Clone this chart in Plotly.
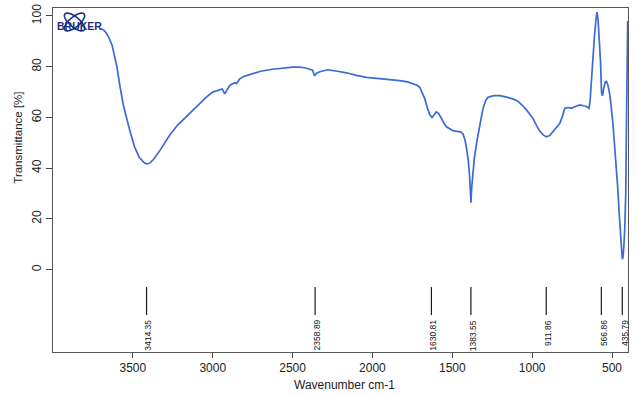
import numpy as np
import plotly.graph_objects as go

# ---------------- data ----------------
wavenumber = [3700, 3685, 3670, 3650, 3630, 3600, 3580, 3560, 3520, 3490, 3460, 3430,
              3414, 3395, 3370, 3330, 3270, 3220, 3165, 3120, 3082, 3040, 3000, 2960,
              2940, 2925, 2910, 2895, 2880, 2863, 2850, 2831, 2800, 2750, 2700, 2625,
              2560, 2500, 2460, 2424, 2393, 2375, 2362, 2350, 2330, 2280, 2220, 2163,
              2100, 2038, 1955, 1900, 1829, 1780, 1746, 1720, 1704, 1690, 1673, 1655,
              1641, 1627, 1614, 1600, 1585, 1568, 1550, 1537, 1515, 1496, 1470, 1447,
              1433, 1420, 1410, 1400, 1392, 1386, 1383, 1379, 1372, 1362, 1345, 1328,
              1308, 1290, 1276, 1240, 1203, 1160, 1120, 1090, 1060, 1030, 995, 970,
              953, 930, 911, 890, 869, 850, 827, 810, 796, 775, 754, 730, 702, 680,
              660, 645, 638, 630, 620, 610, 600, 594, 588, 580, 572, 566, 560, 552,
              542, 535, 527, 518, 510, 495, 480, 465, 455, 445, 440, 436, 432, 426,
              420, 414, 410, 406, 402]
transmittance = [95.0, 94.6, 93.6, 91.5, 88.5, 80.0, 72.0, 65.0, 55.0, 48.5, 44.3, 42.2,
                 41.7, 41.9, 43.5, 47.0, 53.0, 57.0, 60.3, 63.0, 65.6, 68.0, 70.0, 71.0,
                 71.2, 69.3, 71.2, 72.5, 73.2, 73.6, 73.4, 75.2, 76.3, 77.4, 78.2, 79.0,
                 79.5, 79.8, 79.8, 79.6, 79.0, 78.6, 76.4, 77.4, 78.0, 78.8, 78.2, 77.6,
                 76.6, 75.8, 75.3, 75.0, 74.5, 74.0, 73.4, 72.7, 71.9, 70.0, 67.5, 63.5,
                 61.0, 60.0, 61.0, 62.2, 61.5, 59.3, 57.5, 56.3, 55.4, 54.8, 54.5, 54.3,
                 53.5, 51.0, 47.5, 43.0, 37.0, 30.0, 26.4, 32.0, 38.5, 44.0, 51.0, 57.0,
                 63.5, 66.8, 68.0, 68.6, 68.6, 68.0, 67.3, 66.4, 64.7, 62.5, 59.6, 56.5,
                 54.6, 53.0, 52.4, 52.9, 54.4, 55.8, 57.7, 60.5, 63.6, 63.9, 63.6, 64.3,
                 64.9, 64.6, 64.3, 63.6, 66.0, 73.5, 84.0, 92.0, 99.0, 101.5, 99.0, 91.0,
                 82.0, 70.0, 68.5, 71.5, 74.0, 74.2, 73.0, 70.5, 67.0, 58.0, 46.0, 33.0,
                 22.0, 10.0, 6.0, 4.2, 4.6, 9.0, 17.0, 30.0, 55.0, 88.0, 98.0]

peak_positions = [3414.35, 2358.89, 1630.81, 1383.55, 911.86, 566.86, 435.79]
peak_labels = ["3414.35", "2358.89", "1630.81", "1383.55", "911.86", "566.86", "435.79"]
x_tick_values = [3500, 3000, 2500, 2000, 1500, 1000, 500]
y_tick_values = [0, 20, 40, 60, 80, 100]

# ---------------- layout constants ----------------
W, H = 638, 396
PL, PR, PT, PB = 53, 628, 8, 352          # plot-area edges in window pixels
ML, MR, MT, MB = PL, W - PR, PT, H - PB
X_RANGE = [4000, 400]
Y_RANGE = [-32.5, 103.15]
MARK_TOP, MARK_BOTTOM, LABEL_TOP = -6.9, -17.9, -19.0
LINE_COLOR = "#3a6bd6"
FONT = "Liberation Sans, Arial, Helvetica, sans-serif"

pw, ph = PR - PL, PB - PT
def to_paper(px, py):
    return (px - PL) / pw, (PB - py) / ph

fig = go.Figure()

fig.add_trace(go.Scatter(
    x=wavenumber, y=transmittance, mode="lines",
    line=dict(color=LINE_COLOR, width=1.7), hoverinfo="x+y", showlegend=False))

# peak marker lines
mx, my = [], []
for p in peak_positions:
    mx += [p, p, None]
    my += [MARK_TOP, MARK_BOTTOM, None]
fig.add_trace(go.Scatter(x=mx, y=my, mode="lines",
                         line=dict(color="#1a1a1a", width=1.2),
                         hoverinfo="skip", showlegend=False))

annotations = []
for p, lab in zip(peak_positions, peak_labels):
    annotations.append(dict(x=p, y=LABEL_TOP, xref="x", yref="y", text=lab,
                            textangle=-90, showarrow=False, xanchor="center",
                            yanchor="top", xshift=2,
                            font=dict(family=FONT, size=8.5, color="#111111")))

# axis titles
annotations.append(dict(x=0, y=52, xref="paper", yref="y", xshift=-(PL - 18),
                        text="Transmittance [%]", textangle=-90, showarrow=False,
                        xanchor="center", yanchor="middle",
                        font=dict(family=FONT, size=11.5, color="#222222")))
tx, ty = to_paper(344, 385)
annotations.append(dict(x=tx, y=ty, xref="paper", yref="paper", text="Wavenumber cm-1",
                        showarrow=False, xanchor="center", yanchor="middle",
                        font=dict(family=FONT, size=12, color="#222222")))

# Bruker logo (decorative)
shapes = []
cx, cy, a, b = 74.5, 22.0, 12.5, 5.0
for ang in (40, -40):
    t = np.linspace(0, 2 * np.pi, 60)
    th = np.radians(ang)
    xs = cx + a * np.cos(t) * np.cos(th) - b * np.sin(t) * np.sin(th)
    ys = cy + a * np.cos(t) * np.sin(th) + b * np.sin(t) * np.cos(th)
    pts = [to_paper(x_, y_) for x_, y_ in zip(xs, ys)]
    path = "M " + " L ".join(f"{u:.5f},{v:.5f}" for u, v in pts) + " Z"
    shapes.append(dict(type="path", path=path, xref="paper", yref="paper",
                       line=dict(color="#1b2f80", width=1.6)))
lx, ly = to_paper(79, 26.5)
annotations.append(dict(x=lx, y=ly, xref="paper", yref="paper", text="<b>BRUKER</b>",
                        showarrow=False, xanchor="center", yanchor="middle",
                        font=dict(family=FONT, size=10.5, color="#1b2f80")))

fig.update_layout(
    width=W, height=H, autosize=False,
    margin=dict(l=ML, r=MR, t=MT, b=MB, pad=0),
    paper_bgcolor="white", plot_bgcolor="white",
    annotations=annotations, shapes=shapes,
    font=dict(family=FONT, color="#222222"),
)
fig.update_xaxes(range=X_RANGE, tickvals=x_tick_values, ticks="outside", ticklen=5,
                 tickcolor="#444444", showline=True, linecolor="#555555", linewidth=1,
                 mirror=True, showgrid=False, zeroline=False, automargin=False,
                 ticklabeloverflow="allow",
                 tickfont=dict(family=FONT, size=12, color="#222222"))
fig.update_yaxes(range=Y_RANGE, tickvals=y_tick_values, ticks="outside", ticklen=6,
                 tickcolor="#444444", showline=True, linecolor="#555555", linewidth=1,
                 mirror=True, showgrid=False, zeroline=False, tickangle=-90,
                 automargin=False, ticklabeloverflow="allow",
                 tickfont=dict(family=FONT, size=12, color="#222222"))

# remove the browser's default 8px body margin so the figure fills the window
fig.write_html("out.html", config={"displayModeBar": False},
               post_script="document.body.style.margin='0';")
